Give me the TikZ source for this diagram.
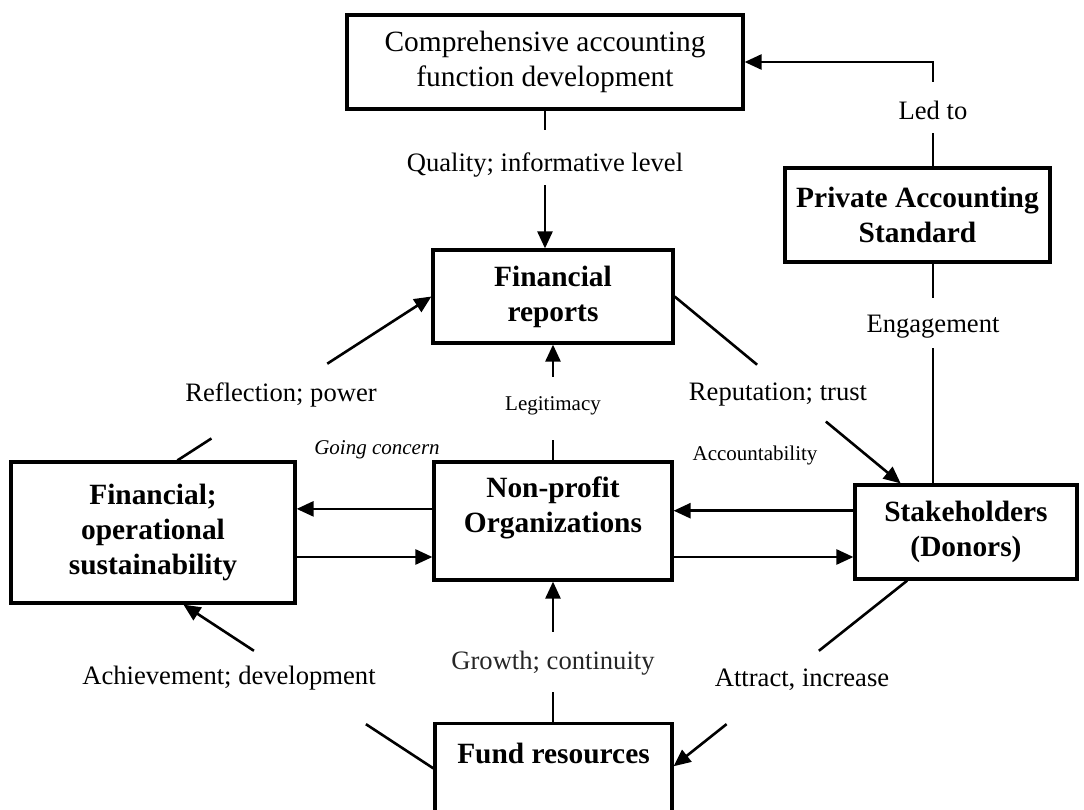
\documentclass[tikz,border=0pt]{standalone}
\usepackage{fontspec}
\setmainfont{Liberation Serif}
\usetikzlibrary{arrows.meta,calc}
\begin{document}
\begin{tikzpicture}[x=0.5pt,y=-0.5pt,
  box/.style={draw, line width=1.6pt, align=center, inner sep=0pt,
    font=\fontsize{14.7}{17.5}\selectfont},
  boldbox/.style={box, font=\fontsize{14.7}{17.5}\selectfont\bfseries},
  conn/.style={line width=1.3pt},
  arr/.style={-{Triangle[length=8.5pt,width=7.5pt]}},
  lbl/.style={inner xsep=2pt, inner ysep=0pt, font=\fontsize{13.3}{16}\selectfont},
  small/.style={inner xsep=1pt, inner ysep=0pt, font=\fontsize{10.5}{12.6}\selectfont},
]
\useasboundingbox (0,0) rectangle (1084,810);
\clip (0,0) rectangle (1084,810);

% boxes
\node[box, minimum width=198pt, minimum height=47pt] (top) at (545,62)
  {Comprehensive accounting\\function development};
\node[boldbox, minimum width=120pt, minimum height=46.5pt] (fr) at (553,296.5)
  {Financial\\reports};
\node[boldbox, minimum width=132.5pt, minimum height=47pt] (pas) at (917.5,215)
  {Private Accounting\\Standard};
\node[boldbox, minimum width=119pt, minimum height=59pt] (npo) at (553,521)
  {Non-profit\\Organizations\\[-1.3pt]\mbox{}};
\node[boldbox, minimum width=142pt, minimum height=70.5pt] (fs) at (153,532.5)
  {Financial;\\operational\\sustainability};
\node[boldbox, minimum width=111pt, minimum height=47pt] (sh) at (966,532)
  {Stakeholders\\(Donors)};
\node[draw, line width=1.6pt, inner sep=0pt, anchor=north,
  font=\fontsize{14.7}{17.5}\selectfont\bfseries,
  minimum width=118.5pt, text height=20pt, text depth=34pt] (fund) at (553.5,722)
  {Fund resources};

% vertical links with labels set into the line
\node[lbl, anchor=base, text height=18.5pt, text depth=7pt] (led) at (933,119) {Led to};
\draw[conn] (pas.north -| led) -- (led.south);
\draw[conn,arr] (led.north) |- (top.east);

\node[lbl, anchor=base, text height=20.5pt, text depth=7pt] (q) at (545,171)
  {Quality; informative level};
\draw[conn] (top.south) -- (q.north);
\draw[conn,arr] (q.south) -- (fr.north -| q.south);

\node[lbl, anchor=base, text height=17pt, text depth=8pt] (eng) at (933,332) {Engagement};
\draw[conn] (pas.south -| eng) -- (eng.north);
\draw[conn] (eng.south) -- (sh.north -| eng);

\node[small, anchor=base, text height=16.5pt, text depth=15pt] (leg) at (553,410) {Legitimacy};
\draw[conn] (npo.north) -- (leg.south);
\draw[conn,arr] (leg.north) -- (fr.south);

\node[lbl, anchor=base, text height=18.5pt, text depth=11.5pt, text=black!85] (gr) at (553,669)
  {Growth; continuity};
\draw[conn] (fund.north -| gr) -- (gr.south);
\draw[conn,arr] (gr.north) -- (npo.south);

% diagonal links, broken around their labels
\coordinate (rA) at ($(fs.north west)!0.585!(fs.north east)$);
\draw[conn] (rA) -- ($(rA)!0.134!(fr.west)$);
\draw[conn,arr] ($(rA)!0.59!(fr.west)$) -- (fr.west);
\node[lbl] (refl) at (281,395) {Reflection; power};

\coordinate (rB) at ($(sh.north west)!0.21!(sh.north east)$);
\draw[conn] (fr.east) -- ($(fr.east)!0.365!(rB)$);
\draw[conn,arr] ($(fr.east)!0.669!(rB)$) -- (rB);
\node[lbl] (rep) at (778,395) {Reputation; trust};

\coordinate (aA) at ($(fund.north west)!0.417!(fund.south west)$);
\coordinate (aB) at ($(fs.south west)!0.606!(fs.south east)$);
\draw[conn] (aA) -- ($(aA)!0.27!(aB)$);
\draw[conn,arr] ($(aA)!0.718!(aB)$) -- (aB);
\node[lbl] (ach) at (229,678) {Achievement; development};

\coordinate (tA) at ($(sh.south west)!0.239!(sh.south east)$);
\coordinate (tB) at ($(fund.north east)!0.398!(fund.south east)$);
\draw[conn] (tA) -- ($(tA)!0.378!(tB)$);
\draw[conn,arr] ($(tA)!0.773!(tB)$) -- (tB);
\node[lbl] (att) at (802,680) {Attract, increase};

% horizontal links around the central box
\coordinate (gcA) at ($(npo.north west)!0.4!(npo.south west)$);
\coordinate (gcB) at ($(npo.north west)!0.797!(npo.south west)$);
\draw[conn,arr] (gcA) -- (gcA -| fs.east);
\draw[conn,arr] (gcB -| fs.east) -- (gcB);
\node[small, font=\fontsize{10.5}{12.6}\selectfont\itshape] (gc) at (377,450) {Going concern};

\coordinate (acA) at ($(npo.north east)!0.415!(npo.south east)$);
\coordinate (acB) at ($(npo.north east)!0.797!(npo.south east)$);
\draw[conn,arr] (acA -| sh.west) -- (acA);
\draw[conn,arr] (acB) -- (acB -| sh.west);
\node[small] (acc) at (755,455) {Accountability};
\end{tikzpicture}
\end{document}
